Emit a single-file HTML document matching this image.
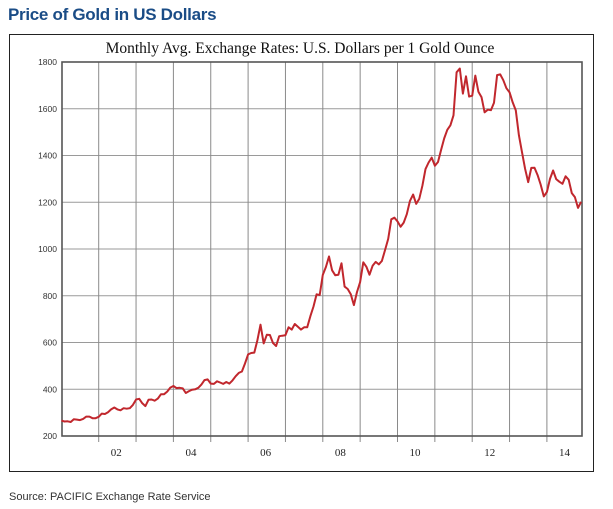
<!DOCTYPE html>
<html><head><meta charset="utf-8"><style>
body{margin:0;background:#fff;width:613px;height:509px;overflow:hidden;font-family:"Liberation Sans",sans-serif}
#h{position:absolute;left:8px;top:5px;font-size:17px;font-weight:bold;color:#1a4c86;letter-spacing:-0.3px}
#frame{position:absolute;left:9px;top:34px;width:585px;height:438px;border:1px solid #222;box-sizing:border-box}
#src{position:absolute;left:9px;top:491px;font-size:11px;color:#333}
svg{position:absolute;left:0;top:0}
</style></head><body>
<div id="h">Price of Gold in US Dollars</div>
<div id="frame"></div>
<div id="src">Source: PACIFIC Exchange Rate Service</div>
<svg id="c" width="613" height="509"></svg>
<script>
const years=[2001,2002,2003,2004,2005,2006,2007,2008,2009,2010,2011,2012,2013,2014];
const xLabels=["02","04","06","08","10","12","14"];
const yTicks=[200,400,600,800,1000,1200,1400,1600,1800];
const p2001=[266,262,263,260,272,270,268,273,283,283,276,276];
const p2002=[282,296,294,302,314,322,314,310,319,317,319,333];
const p2003=[356,359,340,328,355,356,351,360,379,379,390,407];
const p2004=[414,405,406,404,384,392,398,400,406,420,439,442];
const p2005=[424,423,434,429,423,431,424,438,456,470,476,510];
const p2006=[549,555,557,610,676,596,633,632,598,585,627,629];
const p2007=[631,665,655,679,667,655,665,665,713,754,806,803];
const p2008=[889,923,968,909,888,890,939,839,829,806,760,816];
const p2009=[858,943,924,890,928,945,934,949,996,1043,1127,1134];
const p2010=[1118,1095,1113,1149,1205,1233,1193,1215,1271,1342,1370,1391];
const p2011=[1356,1372,1424,1473,1510,1529,1572,1756,1772,1665,1739,1652];
const p2012=[1656,1742,1673,1650,1585,1596,1594,1626,1744,1747,1722,1688];
const p2013=[1670,1627,1593,1487,1414,1343,1286,1347,1348,1316,1275,1225];
const p2014=[1244,1300,1336,1299,1288,1279,1311,1296,1239,1222,1176,1202];
const prices=[p2001,p2002,p2003,p2004,p2005,p2006,p2007,p2008,p2009,p2010,p2011,p2012,p2013,p2014];

const L=62,R=582,T=62,B=436,yw=37.35;
const X=t=>98.7+(t-2002)*yw;
const Y=v=>B-(v-200)/1600*(B-T);
const svg=document.getElementById('c');
const NS='http://www.w3.org/2000/svg';
function mk(tag,attrs,txt){const e=document.createElementNS(NS,tag);for(const k in attrs)e.setAttribute(k,attrs[k]);if(txt!==undefined)e.textContent=txt;svg.appendChild(e);return e;}

const title=mk('text',{x:300,y:53,'text-anchor':'middle','font-family':'Liberation Serif, serif','font-size':15.5,fill:'#111'},'Monthly Avg. Exchange Rates: U.S. Dollars per 1 Gold Ounce');



yTicks.forEach(v=>{
  const y=Y(v);
  const g=mk('line',{x1:L,x2:R,y1:y,y2:y,stroke:'#9a9a9a','stroke-width':1});
  
  
  const t=mk('text',{x:L-5,y:y+3,'text-anchor':'end','font-family':'Liberation Sans, sans-serif','font-size':8.5,fill:'#333'},v);
  
  
});
years.slice(1).forEach(yr=>{
  const x=X(yr);
  const g=mk('line',{x1:x,x2:x,y1:T,y2:B+6,stroke:'#8a8a8a','stroke-width':1});
  
  
});
xLabels.forEach(lb=>{
  const yr=2000+parseInt(lb,10);
  const t=mk('text',{x:X(yr+0.47),y:456,'text-anchor':'middle','font-family':'Liberation Serif, serif','font-size':11,fill:'#222'},lb);
  
  
});
const box=mk('rect',{x:L,y:T,width:R-L,height:B-T,fill:'none',stroke:'#555','stroke-width':1.6});



let pts=[];
prices.forEach((arr,i)=>arr.forEach((v,m)=>pts.push(X(years[i]+m/12).toFixed(1)+','+Y(v).toFixed(1))));
const line=mk('polyline',{points:pts.join(' '),fill:'none',stroke:'#c1272d','stroke-width':2,'stroke-linejoin':'round'});


</script>
</body></html>
